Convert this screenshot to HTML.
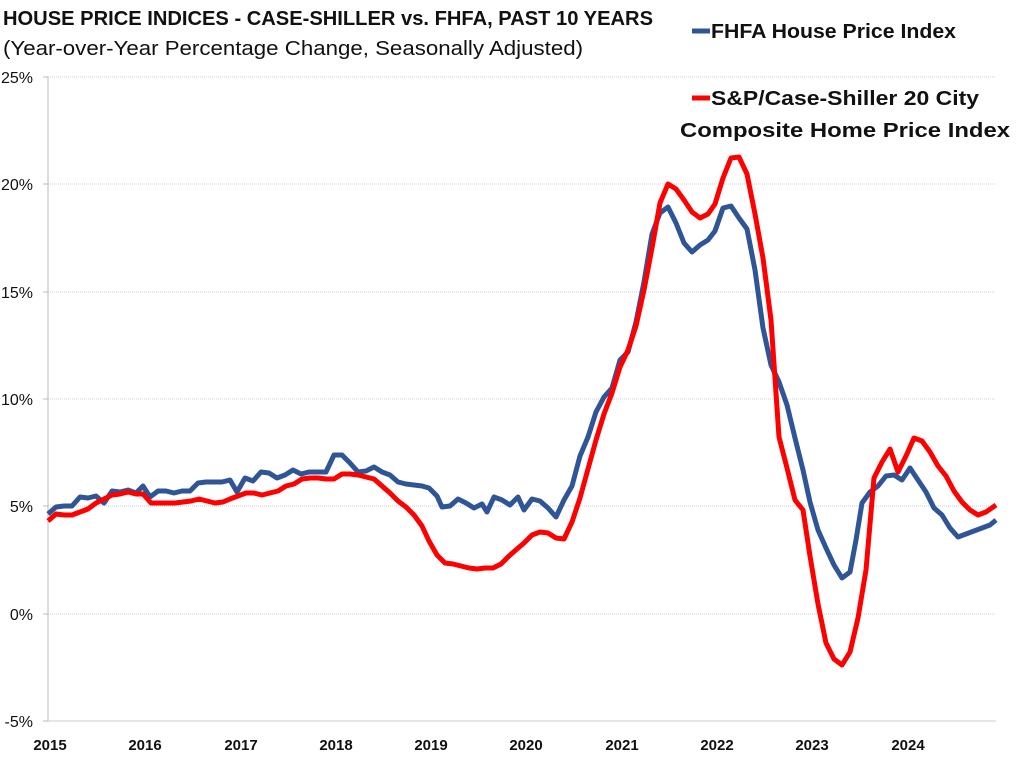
<!DOCTYPE html>
<html><head><meta charset="utf-8"><style>body{margin:0;background:#fff}svg{display:block}text{font-family:"Liberation Sans",sans-serif}</style></head>
<body>
<svg width="1024" height="778" viewBox="0 0 1024 778" xmlns="http://www.w3.org/2000/svg">
<rect width="1024" height="778" fill="#fff"/>
<g stroke="#d0d0d0" stroke-width="1" stroke-dasharray="1,1">
<line x1="48" y1="77" x2="996" y2="77"/><line x1="48" y1="184" x2="996" y2="184"/><line x1="48" y1="292" x2="996" y2="292"/><line x1="48" y1="399" x2="996" y2="399"/><line x1="48" y1="506" x2="996" y2="506"/><line x1="48" y1="614" x2="996" y2="614"/>
</g>
<line x1="48" y1="77" x2="48" y2="721" stroke="#bbb"/>
<line x1="48" y1="721" x2="996" y2="721" stroke="#ccc"/>
<g stroke="#bbb"><line x1="43" y1="77" x2="48" y2="77"/><line x1="43" y1="184" x2="48" y2="184"/><line x1="43" y1="292" x2="48" y2="292"/><line x1="43" y1="399" x2="48" y2="399"/><line x1="43" y1="506" x2="48" y2="506"/><line x1="43" y1="614" x2="48" y2="614"/><line x1="43" y1="721" x2="48" y2="721"/></g>
<g font-size="16" fill="#111" text-anchor="end">
<text x="33" y="83">25%</text><text x="33" y="190">20%</text><text x="33" y="298">15%</text><text x="33" y="405">10%</text><text x="33" y="512">5%</text><text x="33" y="620">0%</text><text x="33" y="727">-5%</text>
</g>
<g font-size="15" font-weight="bold" fill="#111" text-anchor="middle">
<text x="50" y="750">2015</text><text x="145" y="750">2016</text><text x="241" y="750">2017</text><text x="336" y="750">2018</text><text x="431" y="750">2019</text><text x="526" y="750">2020</text><text x="622" y="750">2021</text><text x="717" y="750">2022</text><text x="812" y="750">2023</text><text x="908" y="750">2024</text>
</g>
<polyline fill="none" stroke="#2F5597" stroke-width="5" stroke-linejoin="round" points="48,514 56,507 64,506 72,506 80,497 88,498 96,496 104,503 112,491 120,492 128,490 136,493 143,486 150,497 158,491 166,491 174,493 182,491 190,491 198,483 206,482 214,482 222,482 230,480 237,492 245,478 253,481 261,472 269,473 277,478 285,475 293,470 301,474 309,472 317,472 326,472 334,455 342,455 350,463 358,472 366,471 374,467 382,472 390,475 398,482 406,484 414,485 422,486 429,488 437,496 442,507 450,506 458,499 466,503 474,508 482,504 487,512 494,497 502,500 510,505 518,497 524,510 532,499 540,501 548,508 556,517 564,500 572,486 580,456 588,437 596,412 604,397 612,388 620,360 628,352 636,322 644,282 652,234 660,213 668,207 676,223 684,243 692,252 700,245 708,240 715,231 723,208 731,206 739,218 747,229 755,270 763,328 771,365 779,382 787,405 795,438 803,470 810,502 818,530 826,548 834,565 842,578 850,572 856,540 862,503 870,492 878,486 886,476 894,475 902,480 910,468 918,480 926,492 934,508 942,515 950,528 958,537 966,534 974,531 982,528 990,525 996,520"/>
<polyline fill="none" stroke="#FF0000" stroke-width="5" stroke-linejoin="round" points="48,521 56,514 64,515 72,515 80,512 88,509 96,503 104,499 112,495 120,494 128,492 136,494 143,494 151,503 159,503 167,503 175,503 183,502 191,501 199,499 207,501 215,503 223,502 230,499 238,496 246,493 254,493 262,495 270,493 278,491 286,486 294,484 302,479 310,478 318,478 326,479 334,479 342,474 350,474 358,475 366,477 374,479 382,486 390,493 398,501 406,507 414,515 422,526 429,541 437,555 445,563 453,564 461,566 469,568 477,569 485,568 493,568 501,564 509,556 517,549 524,543 532,535 540,532 548,533 556,538 564,539 572,522 580,498 588,469 596,440 604,414 612,393 620,367 628,350 636,326 644,290 652,248 660,203 668,184 676,189 684,200 692,212 700,218 708,214 715,204 723,178 731,158 739,157 747,174 755,214 763,258 771,320 779,437 787,468 795,500 803,510 810,556 818,604 826,643 834,659 842,665 850,652 858,618 866,570 874,478 882,462 890,449 898,472 906,456 914,438 922,441 930,452 938,466 946,476 954,491 962,502 970,510 978,515 986,512 996,505"/>
<text x="3" y="25" font-size="20" font-weight="bold" fill="#111" textLength="650" lengthAdjust="spacingAndGlyphs">HOUSE PRICE INDICES - CASE-SHILLER vs. FHFA, PAST 10 YEARS</text>
<text x="3" y="55" font-size="20" fill="#111" textLength="580" lengthAdjust="spacingAndGlyphs">(Year-over-Year Percentage Change, Seasonally Adjusted)</text>
<line x1="692" y1="31" x2="710" y2="31" stroke="#2F5597" stroke-width="5"/>
<text x="711" y="38" font-size="20" font-weight="bold" fill="#111" textLength="245" lengthAdjust="spacingAndGlyphs">FHFA House Price Index</text>
<line x1="692" y1="98" x2="710" y2="98" stroke="#FF0000" stroke-width="5"/>
<text x="711" y="105" font-size="20" font-weight="bold" fill="#111" textLength="268" lengthAdjust="spacingAndGlyphs">S&amp;P/Case-Shiller 20 City</text>
<text x="680" y="137" font-size="20" font-weight="bold" fill="#111" textLength="330" lengthAdjust="spacingAndGlyphs">Composite Home Price Index</text>
</svg>
</body></html>
